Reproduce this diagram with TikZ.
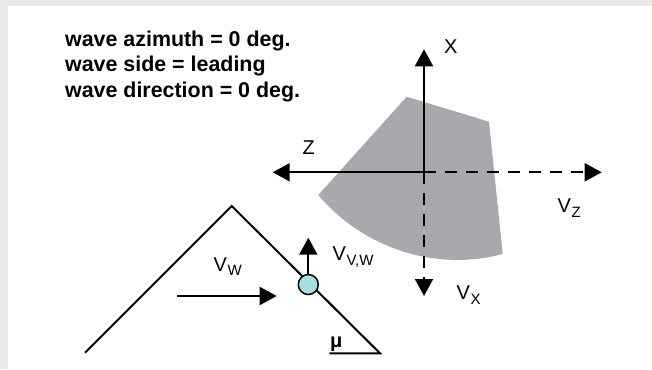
\documentclass[tikz,border=0pt]{standalone}
\usepackage{fontspec}
\setmainfont{Liberation Sans}
\usetikzlibrary{arrows.meta}
\definecolor{bordergray}{HTML}{E8E8E6}
\definecolor{shapegray}{HTML}{A8A9AD}
\definecolor{ballcyan}{HTML}{A9DDE1}
\newcommand{\mysub}[1]{\kern0.5pt\raisebox{-4.5pt}{\fontsize{15}{15}\selectfont #1}}
\begin{document}
\begin{tikzpicture}[x=1pt,y=-1pt,
  axis/.style={line width=2pt, -{Triangle[length=17pt,width=18pt]}},
  dashaxis/.style={axis, dash pattern=on 12pt off 9pt},
  wedgeline/.style={line width=2pt},
  lbl/.style={inner sep=0pt, anchor=base west, font=\fontsize{20}{20}\selectfont},
  info/.style={inner sep=0pt, anchor=base west, font=\bfseries\fontsize{21.4}{21.4}\selectfont}]
\useasboundingbox (0,0) rectangle (652,369);
\fill[bordergray] (0,0) rectangle (652,369);
\fill[white] (8,6) rectangle (652,369);
% info text
\node[info] (t1) at (65,46) {wave azimuth = 0 deg.};
\node[info] (t2) at (65,71.7) {wave side = leading};
\node[info] (t3) at (65,97.4) {wave direction = 0 deg.};
% grey shape
\fill[shapegray] (406.7,96.7) -- (489,121.7) -- (502.7,254)
  .. controls (435.3,271.9) and (363.4,248.3) .. (318.3,195) -- cycle;
% axes
\coordinate (O) at (424,172.3);
\coordinate (Xtip) at (424,49.3);
\coordinate (Ztip) at (272.7,172.3);
\coordinate (Vztip) at (601.7,172.3);
\coordinate (Vxtip) at (424,296);
\draw[axis] (O) -- (Xtip);
\draw[axis] (O) -- (Ztip);
\draw[dashaxis] (O) -- (Vztip);
\draw[dashaxis] (O) -- (Vxtip);
\node[lbl] (Xl) at (444,53.5) {X};
\node[lbl] (Zl) at (302.5,154.3) {Z};
\node[lbl] (Vzl) at (557.5,212.5) {V\mysub{Z}};
\node[lbl] (Vxl) at (456.5,299.5) {V\mysub{X}};
% wave triangle
\coordinate (tl) at (85,352.7);
\coordinate (tapex) at (231.7,206);
\coordinate (tbr) at (380,353.3);
\coordinate (tbl) at (329.3,353.3);
\draw[wedgeline] (tl) -- (tapex) -- (tbr) -- (tbl);
\node[lbl, font=\bfseries\fontsize{20}{20}\selectfont] (mu) at (330,347.5) {μ};
% wave velocity arrow
\coordinate (wa) at (177.3,296);
\coordinate (wb) at (276.7,296);
\draw[axis] (wa) -- (wb);
\node[lbl] (Vwl) at (213.5,271) {V\mysub{W}};
% particle
\node[circle, draw, line width=1.5pt, fill=ballcyan, minimum size=20pt, inner sep=0pt] (ball) at (308.3,284.5) {};
\coordinate (vtip) at (308.3,237.7);
\draw[axis] (ball.north) -- (vtip);
\node[lbl] (Vvwl) at (332.5,260.5) {V\mysub{V,W}};
\end{tikzpicture}
\end{document}
